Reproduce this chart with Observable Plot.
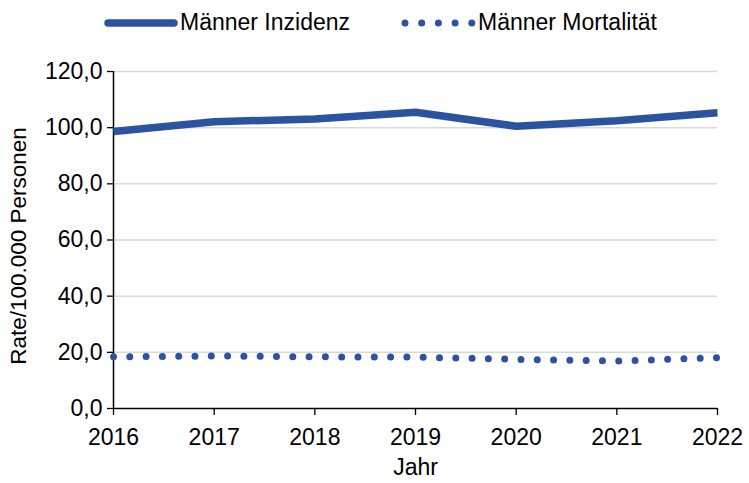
<!DOCTYPE html>
<html>
<head>
<meta charset="utf-8">
<script src="https://cdn.jsdelivr.net/npm/d3@7"></script>
<script src="https://cdn.jsdelivr.net/npm/@observablehq/plot@0.6"></script>
<style>
  body { margin: 0; background: #fff; font-family: "Liberation Sans", Arial, sans-serif; }
  #legend { height: 40px; position: relative; width: 749px; }
  #legend svg, #chart svg { display: block; }
</style>
</head>
<body>
<div id="legend"></div>
<div id="chart"></div>
<script>
const years = [2016, 2017, 2018, 2019, 2020, 2021, 2022];
const inzidenz = [98.6, 102.1, 103.1, 105.5, 100.5, 102.5, 105.3];
const mortalitaet = [18.4, 18.7, 18.4, 18.3, 17.5, 16.9, 18.1];
const seriesNames = ["Männer Inzidenz", "Männer Mortalität"];
const yTicks = [0, 20, 40, 60, 80, 100, 120];
const xLabel = "Jahr";
const yLabel = "Rate/100.000 Personen";
const color = "#2c53a0";
const FONT = '"Liberation Sans", Arial, sans-serif';
const FS = 23;

const inzData = years.map((y, i) => ({year: y, value: inzidenz[i]}));
const morData = years.map((y, i) => ({year: y, value: mortalitaet[i]}));

const fmt = d => d.toFixed(1).replace(".", ",");

const chart = Plot.plot({
  width: 749,
  height: 443,
  marginLeft: 113,
  marginRight: 32,
  marginTop: 31,
  marginBottom: 75,
  style: {fontFamily: FONT, fontSize: FS + "px", color: "#000", overflow: "visible"},
  x: {domain: [2016, 2022]},
  y: {domain: [0, 120]},
  marks: [
    Plot.gridY(yTicks.filter(d => d > 0), {stroke: "#d9d9d9", strokeOpacity: 1, strokeWidth: 1.5}),
    Plot.axisY(yTicks, {tickFormat: fmt, tickSize: 6, tickPadding: 5, fontSize: FS, label: null, stroke: "#000", strokeWidth: 1.3}),
    Plot.axisX(years, {tickFormat: d => String(d), tickSize: 7, tickPadding: 13, fontSize: FS, label: null, stroke: "#000", strokeWidth: 1.3}),
    Plot.ruleX([2016], {stroke: "#000", strokeWidth: 1.5}),
    Plot.ruleY([0], {stroke: "#000", strokeWidth: 1.5}),
    Plot.text([xLabel], {frameAnchor: "bottom", lineAnchor: "middle", dy: 59, fontSize: FS, fill: "#000"}),
    Plot.line(inzData, {x: "year", y: "value", stroke: color, strokeWidth: 7.5, strokeLinejoin: "miter", strokeLinecap: "butt"}),
    Plot.line(morData, {x: "year", y: "value", stroke: color, strokeWidth: 7, strokeDasharray: "0,16.3", strokeLinecap: "round"})
  ]
});
document.getElementById("chart").appendChild(chart);

// Rotated y-axis title
d3.select(chart).append("text")
  .attr("transform", "translate(18,206) rotate(-90)")
  .attr("text-anchor", "middle").attr("dy", "0.35em")
  .attr("font-size", 22.5).attr("font-family", FONT).attr("fill", "#000")
  .text(yLabel);

// Legend
const lg = d3.select("#legend").append("svg").attr("width", 749).attr("height", 40);
lg.append("line").attr("x1", 108).attr("x2", 174).attr("y1", 23).attr("y2", 23)
  .attr("stroke", color).attr("stroke-width", 7.5).attr("stroke-linecap", "round");
lg.append("text").attr("x", 180).attr("y", 22).attr("dy", "0.35em")
  .attr("font-size", FS).attr("font-family", FONT).text(seriesNames[0]);
lg.append("line").attr("x1", 405).attr("x2", 472).attr("y1", 23).attr("y2", 23)
  .attr("stroke", color).attr("stroke-width", 7).attr("stroke-linecap", "round").attr("stroke-dasharray", "0,16.7");
lg.append("text").attr("x", 478).attr("y", 22).attr("dy", "0.35em")
  .attr("font-size", FS).attr("font-family", FONT).text(seriesNames[1]);
</script>
</body>
</html>
